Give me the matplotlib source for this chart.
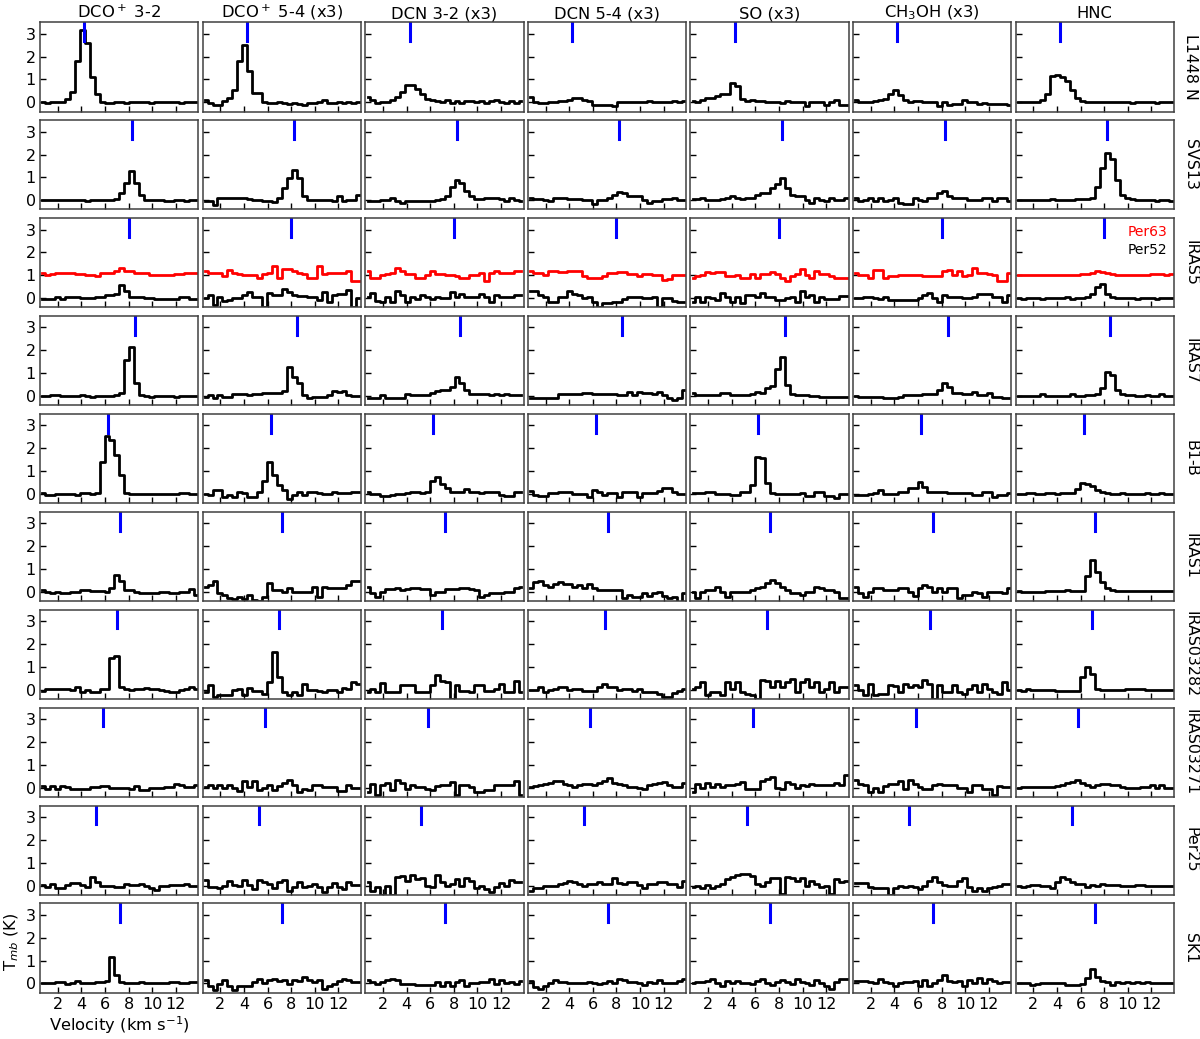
import numpy as np
import matplotlib
matplotlib.use("Agg")
import matplotlib.pyplot as plt

# ---------------- data ----------------
molecules = ["DCO$^+$ 3-2", "DCO$^+$ 5-4 (x3)", "DCN 3-2 (x3)", "DCN 5-4 (x3)",
             "SO (x3)", "CH$_3$OH (x3)", "HNC"]
sources = ["L1448 N", "SVS13", "IRAS5", "IRAS7", "B1-B", "IRAS1",
           "IRAS03282", "IRAS03271", "Per25", "SK1"]
vlsr = [4.25, 8.25, 8.0, 8.5, 6.25, 7.25, 7.0, 5.8, 5.25, 7.25]

v_start = 0.5     # km/s, left edge of first channel
dv = 0.42         # km/s, channel width

dco32 = [
    [0.0,-0.03,0.0,0.0,0.02,0.15,0.44,1.8,3.16,2.6,1.1,0.38,0.0,-0.02,-0.02,0.0,0.0,-0.02,0.0,0.0,0.02,0.0,-0.02,0.0,0.0,0.02,0.0,0.0,-0.02,0.0,0.0,0.0],
    [0.0,0.02,0.0,0.02,0.0,0.0,0.02,0.02,0.0,-0.02,0.0,0.02,0.02,0.0,0.02,0.05,0.3,0.75,1.26,0.75,0.24,0.03,0.0,0.0,0.0,-0.02,-0.02,0.0,0.0,-0.02,0.0,0.0],
    [-0.02,-0.02,-0.02,0.07,-0.02,0.03,0.03,0.03,0.02,0.0,0.0,0.07,0.07,0.12,0.12,0.17,0.58,0.3,0.07,0.03,0.03,0.0,0.0,-0.02,-0.02,-0.02,-0.02,-0.05,0.03,0.03,-0.02,-0.02],
    [0.0,0.0,0.03,0.03,0.0,0.0,0.02,0.02,0.05,0.0,-0.02,0.0,0.02,0.02,0.0,0.05,0.12,1.58,2.13,0.55,0.05,0.0,-0.02,0.0,0.02,0.0,0.0,-0.02,0.0,0.02,0.0,0.0],
    [0.02,-0.03,-0.03,0.0,0.0,0.0,0.0,-0.03,0.02,0.02,-0.02,0.05,1.38,2.54,2.36,1.7,0.83,0.05,0.0,0.0,0.0,0.0,0.0,-0.02,-0.02,-0.02,-0.02,0.0,0.02,0.02,0.0,0.0],
    [0.07,0.0,-0.07,0.0,-0.05,-0.05,0.0,0.0,0.07,0.07,0.03,0.03,0.03,0.0,0.17,0.73,0.47,0.07,0.07,0.0,-0.05,-0.05,-0.05,-0.05,0.0,0.0,-0.03,-0.03,0.0,0.0,0.12,-0.12],
    [-0.07,0.02,0.02,0.02,0.02,0.02,-0.02,0.12,-0.12,0.0,-0.12,-0.12,0.02,0.05,1.37,1.49,0.12,0.05,-0.02,0.05,0.05,0.07,0.02,0.02,-0.02,-0.05,-0.1,-0.1,0.0,0.02,0.12,0.05],
    [0.07,-0.04,0.07,-0.07,0.07,0.03,-0.07,-0.07,-0.04,-0.04,0.03,0.03,0.07,0.07,0.0,0.0,-0.02,-0.02,-0.07,0.07,-0.09,-0.09,-0.02,-0.02,-0.02,0.03,0.03,0.17,0.1,0.03,0.03,0.13],
    [0.03,-0.07,0.07,-0.12,-0.12,0.03,0.12,0.12,0.03,-0.07,0.37,0.15,0.0,0.0,-0.03,-0.07,-0.07,0.07,0.03,0.03,0.07,0.0,-0.12,-0.19,0.0,0.0,0.03,0.03,0.03,0.07,0.0,0.0],
    [0.03,0.0,0.0,0.05,0.05,-0.02,0.03,0.09,0.03,0.0,0.0,0.05,0.05,0.1,1.15,0.38,0.05,0.03,0.03,0.03,0.05,0.0,0.0,0.03,0.03,0.03,0.05,0.05,0.0,0.0,0.05,0.05],
]

dco54 = [
    [0.12,-0.05,-0.12,-0.1,0.05,0.2,0.55,1.8,2.5,1.36,0.41,0.41,0.0,-0.05,-0.03,0.0,-0.03,-0.08,-0.05,-0.08,-0.12,-0.05,-0.02,0.02,0.12,-0.05,-0.05,0.02,-0.05,0.0,-0.05,0.0],
    [-0.05,-0.05,-0.22,0.1,0.12,0.12,0.1,0.1,0.1,0.05,0.02,0.0,-0.05,-0.05,-0.08,0.12,0.53,0.97,1.34,0.97,0.17,0.0,0.0,0.0,0.0,0.0,-0.05,0.17,-0.05,0.0,0.0,0.24],
    [0.0,0.15,-0.3,0.07,-0.12,-0.1,0.0,0.0,0.15,0.26,0.03,0.03,-0.37,0.22,0.15,0.15,0.4,0.26,0.15,0.1,0.1,0.07,0.07,-0.1,0.26,-0.15,0.15,0.17,0.17,0.37,-0.37,0.0],
    [-0.03,0.04,-0.1,0.04,-0.03,-0.03,0.07,0.07,0.1,0.04,0.1,0.1,0.12,0.12,0.12,0.12,0.2,1.29,0.85,0.56,0.04,-0.1,-0.03,-0.03,-0.03,0.04,0.2,0.19,0.2,0.04,0.02,0.02],
    [-0.02,-0.05,0.17,0.17,-0.12,-0.05,-0.12,0.1,0.02,-0.12,-0.12,0.07,0.57,1.41,0.83,0.39,0.17,-0.22,-0.05,0.07,-0.05,0.07,0.07,0.02,-0.02,-0.02,0.07,0.02,0.02,0.02,0.07,0.1],
    [0.22,0.29,0.47,-0.07,-0.15,-0.26,-0.32,-0.22,-0.32,-0.15,-0.37,-0.4,-0.22,0.37,0.07,0.07,0.0,0.15,0.0,0.0,0.0,0.0,0.22,-0.22,0.22,0.17,0.17,0.17,0.17,0.29,0.47,0.47],
    [-0.12,0.2,-0.3,-0.24,-0.24,-0.24,-0.02,0.05,-0.24,0.08,-0.07,-0.07,-0.17,0.34,1.66,0.56,-0.1,-0.24,-0.12,-0.24,0.27,0.0,0.0,-0.07,-0.12,0.0,0.0,-0.1,0.08,0.05,0.34,0.23],
    [0.03,0.13,0.0,0.1,0.0,0.13,0.0,-0.16,0.28,0.03,0.28,-0.12,0.0,0.13,-0.12,0.07,0.22,0.32,0.1,-0.19,-0.07,-0.12,0.1,0.1,0.03,0.03,0.03,-0.16,-0.16,0.13,0.0,0.0],
    [0.26,-0.07,-0.07,-0.12,0.0,0.22,0.03,0.0,0.26,0.03,-0.15,0.26,0.15,0.07,-0.12,0.15,0.26,-0.22,-0.07,0.15,-0.07,0.0,0.07,-0.07,-0.3,-0.07,0.12,-0.07,-0.15,0.15,0.03,0.03],
    [0.13,-0.1,-0.3,-0.04,0.13,-0.1,-0.28,-0.13,-0.1,-0.1,0.06,0.2,0.0,0.16,0.2,0.1,0.16,-0.01,0.13,0.1,0.28,0.16,0.06,0.13,-0.23,-0.13,-0.01,0.1,0.2,0.13,0.06,0.06],
]

dcn32 = [
    [0.23,0.1,-0.03,0.0,0.0,0.1,0.22,0.45,0.77,0.77,0.6,0.37,0.15,0.12,0.08,0.0,0.12,-0.05,0.05,-0.05,0.08,0.05,0.02,0.08,-0.02,0.08,0.12,0.02,-0.05,0.08,-0.05,0.05],
    [-0.05,-0.05,-0.05,0.0,0.0,0.12,-0.05,-0.1,-0.05,-0.05,-0.05,-0.05,-0.05,-0.05,0.02,0.05,0.17,0.56,0.9,0.75,0.42,0.17,0.07,0.07,0.12,0.12,0.12,0.07,-0.05,0.12,0.0,-0.05],
    [0.03,0.22,-0.12,-0.15,0.07,-0.17,0.32,0.15,-0.17,0.03,-0.03,0.15,0.03,-0.03,0.07,0.0,0.0,0.26,0.07,0.17,0.03,0.07,0.07,0.17,0.03,-0.15,0.12,0.07,0.07,0.03,0.12,0.12],
    [-0.07,-0.07,-0.07,0.04,-0.07,-0.07,-0.07,-0.07,0.07,0.04,0.04,0.04,0.04,0.15,0.2,0.25,0.26,0.4,0.85,0.56,0.26,0.07,0.1,0.1,0.1,0.04,0.1,0.04,0.07,0.04,0.04,0.04],
    [0.07,-0.02,-0.02,-0.08,-0.08,-0.05,-0.02,0.0,0.02,0.07,0.07,0.02,0.07,0.57,0.76,0.42,0.25,0.07,0.07,0.07,0.2,0.07,0.07,0.02,0.07,0.1,0.1,-0.05,-0.08,-0.08,0.07,0.07],
    [0.22,-0.07,-0.22,0.0,0.12,0.12,0.15,0.07,0.12,0.15,0.15,0.12,0.12,-0.12,0.0,0.0,0.12,0.12,0.12,0.17,0.17,0.12,0.07,-0.22,-0.12,-0.07,-0.07,-0.07,0.0,0.0,0.17,0.22],
    [-0.1,0.05,-0.12,0.31,-0.1,-0.1,-0.1,0.22,0.2,0.2,-0.1,-0.12,-0.1,0.22,0.64,0.37,0.34,-0.39,0.22,-0.07,-0.07,-0.1,0.2,0.2,-0.07,-0.07,0.02,0.27,-0.1,-0.1,0.37,-0.1],
    [-0.2,0.17,-0.34,0.1,0.22,-0.12,0.32,0.22,-0.07,0.1,0.03,0.03,-0.04,-0.12,0.07,0.1,0.13,0.25,-0.3,0.13,0.13,0.03,-0.19,-0.19,-0.12,-0.12,0.1,0.1,0.1,0.1,0.28,-0.34],
    [0.17,-0.22,-0.07,-0.41,0.0,-0.41,0.37,0.41,0.22,0.44,0.29,0.32,0.0,-0.07,0.44,0.17,0.0,0.07,0.29,-0.03,0.32,0.22,-0.12,0.0,-0.17,-0.29,-0.07,0.12,0.0,0.26,0.15,0.15],
    [0.13,0.06,-0.01,0.06,0.13,0.18,0.13,-0.01,-0.01,-0.01,-0.05,-0.05,-0.05,-0.05,0.06,-0.09,0.06,-0.09,0.06,0.13,-0.09,0.03,0.03,0.06,0.06,0.2,-0.01,0.13,0.03,0.06,-0.01,0.09],
]

dcn54 = [
    [0.25,0.0,-0.03,-0.02,0.0,0.02,0.05,0.05,0.1,0.18,0.18,0.12,0.05,-0.1,-0.1,-0.1,-0.1,-0.17,0.0,0.0,0.02,0.03,0.03,0.0,0.05,0.02,0.02,0.03,0.03,0.05,0.03,0.05],
    [0.12,0.05,0.05,0.0,-0.03,0.08,0.08,0.08,0.05,0.05,0.05,0.0,0.0,-0.15,0.02,0.02,0.12,0.25,0.36,0.3,0.2,0.17,0.17,0.0,-0.12,-0.03,-0.03,0.05,0.05,0.08,0.02,0.02],
    [0.3,0.3,0.15,0.03,-0.17,-0.17,0.07,0.07,0.3,0.17,0.15,0.0,0.07,-0.17,-0.37,-0.22,-0.22,-0.15,-0.15,-0.05,0.07,0.07,0.07,0.0,0.0,0.07,-0.37,0.0,0.0,-0.12,-0.17,-0.17],
    [-0.07,-0.07,-0.07,-0.07,-0.07,-0.07,0.07,0.07,0.07,0.07,0.07,0.12,0.15,0.07,0.07,0.07,0.1,0.1,0.04,0.04,0.19,0.04,0.16,0.12,0.12,0.07,0.16,0.04,-0.1,-0.17,-0.1,0.26],
    [0.12,-0.03,-0.08,-0.08,0.02,0.02,0.1,0.1,0.1,-0.02,-0.02,-0.02,-0.12,0.17,0.07,-0.05,0.02,0.02,-0.12,0.07,0.07,0.07,-0.12,0.02,0.02,0.02,0.15,0.27,0.27,0.07,-0.02,-0.02],
    [0.15,0.44,0.47,0.32,0.22,0.36,0.44,0.36,0.36,0.22,0.29,0.15,0.36,0.15,0.07,0.07,0.07,0.07,0.07,-0.29,-0.15,-0.22,-0.22,-0.03,-0.18,-0.07,0.0,-0.18,-0.26,-0.22,-0.44,-0.07],
    [-0.02,-0.02,0.12,-0.12,-0.02,0.05,0.12,0.12,0.0,0.02,0.02,-0.07,-0.07,-0.07,0.1,0.27,0.1,0.1,-0.02,0.05,0.05,-0.07,0.02,-0.1,-0.1,-0.12,-0.2,-0.3,-0.3,-0.15,-0.07,0.05],
    [0.03,0.07,0.1,0.15,0.22,0.3,0.27,0.15,0.1,0.05,0.13,0.17,0.15,0.1,0.22,0.3,0.42,0.22,0.17,0.1,0.05,0.03,0.0,-0.04,0.13,0.15,0.22,0.25,0.13,0.03,0.03,0.22],
    [-0.22,-0.12,-0.12,-0.03,-0.03,0.0,0.07,0.12,0.22,0.15,0.07,0.0,0.07,0.07,0.15,0.07,0.07,0.32,0.12,0.07,0.15,0.15,0.03,-0.12,0.07,0.07,0.15,0.15,0.07,0.07,-0.07,0.22],
    [0.09,-0.16,-0.23,-0.09,0.03,0.13,0.06,0.06,0.03,0.03,0.03,0.03,0.06,0.03,-0.01,0.03,0.09,0.03,0.2,0.13,0.06,0.06,0.03,-0.05,0.06,0.03,0.13,0.03,0.03,0.03,0.09,0.18],
]

so = [
    [0.07,0.02,0.12,0.19,0.19,0.26,0.38,0.38,0.85,0.7,0.15,0.05,0.12,0.08,0.08,0.03,0.03,0.0,-0.03,0.05,0.0,0.0,0.0,-0.17,0.02,0.0,0.0,-0.1,0.02,0.12,-0.1,-0.1],
    [0.05,0.05,0.12,0.0,0.0,0.02,0.05,0.08,0.17,0.12,0.05,0.12,0.12,0.24,0.31,0.31,0.53,0.72,0.97,0.53,0.24,0.17,0.17,0.02,-0.12,0.12,0.02,-0.05,0.12,0.02,0.02,0.12],
    [-0.15,0.07,-0.15,0.03,0.0,-0.07,0.22,0.03,-0.17,0.07,-0.22,0.15,0.12,0.07,0.22,0.03,0.07,-0.07,-0.07,0.0,0.03,-0.15,0.3,0.03,0.15,-0.15,0.03,-0.03,-0.03,-0.03,0.1,0.1],
    [0.12,0.04,0.04,0.04,0.04,0.04,0.12,0.12,0.04,0.04,0.04,0.04,0.07,0.19,0.12,0.37,0.45,1.2,1.72,0.5,0.07,0.04,0.04,0.04,0.0,0.0,-0.03,-0.03,-0.03,-0.03,-0.03,-0.03],
    [0.02,0.02,0.02,0.07,0.07,0.0,0.0,0.0,-0.03,-0.03,0.07,0.07,0.39,1.63,1.59,0.46,0.05,-0.02,-0.02,-0.02,-0.02,-0.02,0.02,-0.08,-0.08,0.07,0.07,-0.08,-0.08,-0.16,-0.02,-0.02],
    [0.0,-0.29,0.0,0.07,0.07,0.22,0.0,-0.22,0.0,0.0,0.0,0.0,0.07,0.15,0.22,0.37,0.51,0.37,0.22,0.07,-0.07,-0.07,-0.12,0.0,0.0,0.22,0.15,0.07,0.07,0.0,-0.26,-0.26],
    [0.05,0.12,0.34,-0.24,-0.1,-0.12,-0.24,0.34,0.02,0.34,-0.12,-0.17,-0.24,-0.39,0.42,0.37,0.12,0.37,0.12,0.34,0.49,-0.1,0.34,0.49,0.12,0.34,-0.1,0.05,0.34,-0.1,0.12,0.12],
    [-0.19,0.17,0.0,0.22,0.03,0.17,0.03,0.1,0.1,0.17,0.25,-0.04,-0.07,-0.07,0.28,0.4,0.47,0.0,-0.07,0.25,0.17,0.0,0.1,0.07,0.17,0.1,0.1,0.13,0.13,0.22,0.1,0.55],
    [-0.07,0.0,-0.12,0.03,-0.12,0.0,0.07,0.29,0.37,0.44,0.51,0.51,0.41,0.07,0.0,0.15,0.32,0.32,-0.37,0.37,0.32,0.22,0.32,0.0,0.22,0.07,-0.07,0.0,-0.37,0.29,0.15,0.22],
    [0.03,0.06,0.06,0.09,0.2,0.03,-0.09,0.09,0.03,0.09,0.03,0.03,-0.01,0.09,0.18,0.03,-0.05,0.06,0.13,0.06,-0.01,0.2,0.06,0.03,-0.05,0.13,0.03,-0.09,-0.23,0.06,0.18,0.18],
]

ch3oh = [
    [0.1,0.02,0.0,0.0,0.05,0.1,0.15,0.38,0.55,0.33,0.1,0.0,0.07,0.07,0.02,0.0,0.0,-0.17,0.02,-0.1,-0.07,-0.07,0.12,0.0,0.0,-0.07,-0.02,-0.07,-0.07,-0.07,-0.07,-0.12],
    [0.12,-0.02,0.0,0.1,-0.03,0.12,-0.02,0.02,0.12,-0.12,-0.17,-0.15,0.12,0.0,-0.02,0.12,0.12,0.3,0.42,0.17,0.1,0.1,0.08,0.02,0.02,0.0,0.08,0.1,-0.02,0.1,0.1,-0.05],
    [0.0,0.0,0.03,0.03,0.0,-0.03,0.07,-0.07,-0.07,-0.07,-0.07,-0.07,-0.07,0.0,0.15,0.22,0.0,-0.17,0.15,0.03,0.07,0.07,0.0,0.0,0.03,0.18,0.2,0.2,0.07,0.07,-0.15,0.15],
    [0.0,-0.02,-0.02,-0.03,-0.03,-0.05,-0.07,-0.07,-0.07,-0.03,0.04,0.04,0.04,0.04,0.07,0.07,0.07,0.26,0.55,0.4,0.12,0.12,0.07,0.07,0.19,0.04,0.04,0.15,-0.03,-0.03,-0.07,-0.07],
    [-0.05,-0.05,-0.05,-0.02,0.05,0.17,-0.02,-0.02,-0.02,0.07,0.07,0.25,0.25,0.54,0.32,0.07,0.07,0.07,0.07,0.02,0.02,0.02,0.02,0.02,-0.03,-0.03,0.07,0.07,-0.12,-0.05,-0.05,0.02],
    [0.22,-0.07,-0.22,0.0,0.15,0.15,0.07,0.07,0.07,0.15,0.15,0.0,-0.18,0.15,0.29,0.22,0.0,0.18,0.0,0.18,0.18,-0.26,-0.12,-0.12,0.0,-0.03,-0.22,0.0,0.0,0.0,-0.03,0.18],
    [0.2,-0.02,-0.24,0.27,-0.24,-0.17,-0.17,0.2,0.17,-0.12,0.27,0.12,0.2,0.12,0.42,0.27,-0.39,0.2,-0.1,-0.1,0.2,-0.1,-0.17,0.05,0.2,-0.1,0.27,0.05,-0.1,-0.17,0.34,0.0],
    [0.32,0.17,0.13,-0.19,0.0,-0.19,0.07,0.17,0.17,0.28,-0.04,0.32,0.17,0.03,-0.04,-0.04,0.1,0.17,0.1,0.1,0.1,0.0,0.0,-0.19,0.1,0.1,-0.07,-0.07,-0.3,0.07,0.03,0.03],
    [0.12,0.12,0.12,-0.07,-0.12,-0.12,-0.12,-0.41,-0.12,0.0,-0.07,0.0,-0.07,-0.15,0.0,0.22,0.37,0.15,0.03,0.0,0.0,0.22,0.32,-0.07,-0.22,-0.12,-0.22,-0.12,-0.07,0.0,0.07,0.07],
    [0.09,0.09,0.09,0.06,0.03,0.2,0.06,0.03,-0.09,0.03,0.06,0.06,0.09,-0.09,0.13,-0.09,0.03,0.13,0.35,0.09,0.06,0.09,-0.12,0.13,0.03,0.23,0.03,0.18,0.09,0.03,0.06,0.06],
]

hnc = [
    [0.0,0.0,0.0,0.0,0.02,0.1,0.35,1.15,1.2,1.1,0.95,0.55,0.2,0.08,0.02,0.02,0.0,0.0,0.0,0.02,0.02,0.0,0.0,-0.02,0.0,0.0,0.0,0.0,-0.02,0.0,0.0,0.0],
    [0.0,0.02,0.0,0.0,0.02,0.0,0.02,0.05,0.02,0.02,0.0,0.02,0.05,0.05,0.05,0.1,0.6,1.4,2.05,1.8,0.9,0.25,0.1,0.05,0.02,0.0,0.02,0.0,-0.02,0.0,0.0,-0.02],
    [0.0,-0.03,0.02,0.02,0.0,-0.02,0.02,0.0,0.02,0.0,0.05,-0.02,0.0,0.02,0.05,0.2,0.5,0.6,0.2,0.05,0.02,0.0,0.0,0.02,-0.02,0.0,0.02,0.0,-0.03,0.02,0.0,0.02],
    [0.02,0.02,0.02,0.02,0.02,0.1,0.02,0.02,0.02,0.02,0.02,0.1,0.02,0.02,0.05,0.05,0.1,0.35,1.05,0.9,0.25,0.1,0.05,0.05,0.02,0.02,0.05,0.02,0.02,0.07,0.0,0.0],
    [0.0,0.0,0.02,0.02,0.0,0.0,0.02,0.02,0.0,0.02,0.02,0.05,0.22,0.5,0.45,0.33,0.18,0.08,0.02,0.0,0.0,0.02,0.0,0.0,-0.02,0.0,0.02,0.0,0.0,0.02,0.0,0.0],
    [0.03,0.0,-0.02,-0.02,0.0,0.0,0.02,0.02,0.05,0.05,0.1,0.05,0.05,0.05,0.68,1.4,0.88,0.44,0.15,0.1,0.02,0.02,0.05,0.05,0.05,0.05,0.05,0.03,0.05,0.05,0.03,0.03],
    [0.0,-0.05,0.05,0.0,0.0,0.0,0.0,0.0,-0.05,-0.05,-0.05,-0.05,-0.05,0.55,0.98,0.7,0.02,0.0,0.0,0.0,0.0,0.0,0.05,0.05,0.02,0.02,0.0,0.0,0.0,0.0,0.0,0.0],
    [0.0,0.05,0.05,0.03,0.05,0.05,0.05,0.05,0.08,0.1,0.19,0.26,0.34,0.2,0.1,0.04,0.12,0.15,0.15,0.1,0.1,0.05,0.0,0.0,0.0,0.03,0.03,0.12,0.0,0.12,0.0,0.0],
    [0.0,-0.07,0.0,0.03,0.03,-0.03,-0.03,-0.1,0.15,0.37,0.3,0.15,0.08,0.08,-0.07,0.03,0.0,0.07,0.03,0.03,0.03,0.0,0.0,0.0,0.03,0.03,0.0,0.0,0.0,0.0,0.0,0.0],
    [0.02,0.02,0.02,-0.05,-0.02,0.03,0.03,0.03,0.03,0.0,-0.08,-0.05,-0.05,-0.03,0.25,0.62,0.3,0.12,0.05,-0.05,0.05,0.0,0.05,0.03,0.05,0.03,0.05,0.03,0.0,0.0,0.0,0.0],
]

# Per63 spectra (shown in red, offset by +1 K) in the IRAS5 row, one per molecule
per63 = [
    [1.1,1.0,1.05,1.1,1.1,1.1,1.1,1.05,1.05,1.0,1.0,0.95,1.1,1.1,1.1,1.2,1.32,1.17,1.17,1.1,1.1,1.1,1.0,1.0,1.02,1.02,1.02,1.05,1.05,1.1,1.1,1.1],
    [1.17,1.1,1.1,1.1,0.95,1.24,1.1,1.05,1.0,1.0,1.0,0.88,1.05,1.1,1.39,0.88,1.29,1.29,1.2,1.1,1.05,0.88,0.88,1.39,1.05,1.1,1.1,1.1,1.1,1.17,0.73,0.73],
    [1.17,0.88,0.88,1.0,1.05,1.1,1.3,1.17,1.05,1.05,0.9,0.9,1.0,1.2,1.05,1.05,1.0,1.0,0.95,0.9,0.88,1.0,1.0,1.1,0.76,1.1,1.17,1.1,1.1,1.1,1.17,1.17],
    [1.17,1.1,1.1,1.02,1.2,1.2,1.14,1.14,1.17,1.17,1.2,0.95,0.88,0.88,0.88,0.95,1.1,1.1,1.14,1.14,1.05,1.05,0.95,1.05,1.05,1.0,1.0,0.8,0.85,1.0,1.02,1.02],
    [0.88,0.95,1.02,1.14,1.1,1.14,1.14,0.95,0.95,1.0,0.9,0.9,1.05,0.88,1.05,1.05,1.14,1.05,0.9,0.76,0.95,1.05,1.29,1.0,0.9,1.2,1.05,1.05,0.95,0.9,0.9,0.9],
    [1.1,1.02,1.02,0.88,1.24,1.24,0.88,0.95,0.95,1.02,1.02,1.02,1.02,1.02,0.95,0.95,0.95,0.95,1.17,1.24,1.02,1.17,0.95,1.02,1.31,1.1,1.1,1.05,1.0,0.73,0.73,1.1],
    [1.0,1.0,1.02,1.0,1.0,1.02,1.02,1.0,1.0,1.02,1.02,1.0,1.0,1.05,1.05,1.1,1.2,1.15,1.08,1.05,1.02,1.02,1.0,1.0,1.02,1.02,1.0,1.05,1.05,1.05,1.02,1.05],
]
per63_row = 2

columns = [dco32, dco54, dcn32, dcn54, so, ch3oh, hnc]

# ---------------- layout ----------------
W, H = 1200, 1039
fig = plt.figure(figsize=(W / 100, H / 100), dpi=100)
plt.rcParams['font.family'] = ['DejaVu Sans']

ax_left0, ax_pitch_x, ax_w = 40.0, 162.6, 158.3
ax_top0, ax_pitch_y, ax_h = 22.3, 97.9, 89.2

tick_fs = 11.5
title_fs = 11.8
row_fs = 11.4

nrows, ncols = len(sources), len(molecules)
for r in range(nrows):
    for c in range(ncols):
        left = (ax_left0 + c * ax_pitch_x) / W
        bottom = 1 - (ax_top0 + r * ax_pitch_y + ax_h) / H
        ax = fig.add_axes([left, bottom, ax_w / W, ax_h / H])
        spec = np.asarray(columns[c][r], dtype=float)
        vel = v_start + dv * (np.arange(len(spec)) + 0.5)
        ax.step(vel, spec, where='mid', color='black', lw=2.0)
        if r == per63_row:
            red = np.asarray(per63[c], dtype=float)
            vr = v_start + dv * (np.arange(len(red)) + 0.5)
            ax.step(vr, red, where='mid', color='red', lw=2.0)
        ax.axvline(vlsr[r], ymin=0.79, ymax=1.0, color='blue', lw=2.2)
        ax.set_xlim(0.5, 13.9)
        ax.set_ylim(-0.4, 3.5)
        ax.set_xticks([2, 4, 6, 8, 10, 12])
        ax.set_yticks([0, 1, 2, 3])
        ax.tick_params(direction='in', length=4, width=1, labelsize=tick_fs, pad=3,
                       top=False, right=False)
        if c != 0:
            ax.set_yticklabels([])
        if r != nrows - 1:
            ax.set_xticklabels([])
        for s in ax.spines.values():
            s.set_color('0.25')
            s.set_linewidth(1.1)
        if r == 0:
            ax.set_title(molecules[c], fontsize=title_fs, pad=3)
        if c == ncols - 1:
            ax.text(1.105, 0.5, sources[r], transform=ax.transAxes, rotation=270,
                    ha='center', va='center', fontsize=row_fs)
        if r == per63_row and c == ncols - 1:
            ax.text(0.96, 0.84, 'Per63', color='red', transform=ax.transAxes,
                    ha='right', va='center', fontsize=10)
            ax.text(0.96, 0.64, 'Per52', color='black', transform=ax.transAxes,
                    ha='right', va='center', fontsize=10)

fig.text(12 / W, 1 - 942 / H, 'T$_{mb}$ (K)', rotation=90, ha='center', va='center',
         fontsize=title_fs)
fig.text(119 / W, 1 - 1025 / H, 'Velocity (km s$^{-1}$)', ha='center', va='center',
         fontsize=title_fs)

fig.savefig('out.png', dpi=100)
